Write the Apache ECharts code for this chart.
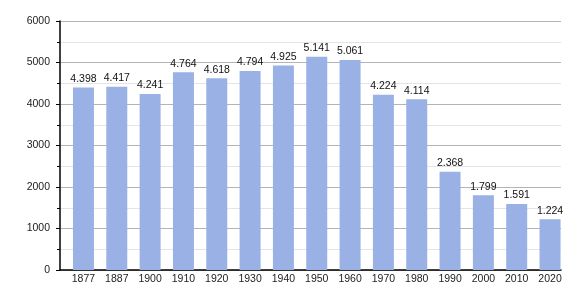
<!DOCTYPE html>
<html><head><meta charset="utf-8">
<script src="https://cdn.jsdelivr.net/npm/echarts@6/dist/echarts.min.js"></script>
<style>html,body{margin:0;padding:0;background:#fff}#c{width:580px;height:300px}</style>
</head><body><div id="c"></div>
<script>
const categories = ['1877','1887','1900','1910','1920','1930','1940','1950','1960','1970','1980','1990','2000','2010','2020'];
const population = [4398,4417,4241,4764,4618,4794,4925,5141,5061,4224,4114,2368,1799,1591,1224];
const yTicks = [0,1000,2000,3000,4000,5000,6000];

function fmt(v){ return String(v).replace(/\B(?=(\d{3})+(?!\d))/g,'.'); }
const FONT = 'Liberation Sans, Arial';
const FS = 10.5;
const chart = echarts.init(document.getElementById('c'), null, {renderer:'canvas'});
chart.setOption({
  animation:false,
  grid:[
    {left:60,right:19,top:21,bottom:30},
    {left:66.8,right:13.3,top:21,bottom:30}
  ],
  xAxis:[
    {type:'category',gridIndex:0,data:categories,
      axisLine:{lineStyle:{color:'#000',width:1.5}},
      axisTick:{show:false},axisLabel:{show:false}},
    {type:'category',gridIndex:1,data:categories,
      axisLine:{show:false},axisTick:{show:false},
      axisLabel:{color:'#222',fontSize:FS,fontFamily:FONT,margin:4}}
  ],
  yAxis:[
    {type:'value',gridIndex:0,min:yTicks[0],max:yTicks[yTicks.length-1],interval:1000,
      axisLine:{show:true,lineStyle:{color:'#000',width:1.5}},
      axisTick:{show:true,length:4,lineStyle:{color:'#000'}},
      minorTick:{show:true,splitNumber:2,length:3,lineStyle:{color:'#000'}},
      splitLine:{lineStyle:{color:'#b4b4b4',width:1}},
      minorSplitLine:{show:true,lineStyle:{color:'#e4e4e4',width:1}},
      axisLabel:{color:'#222',fontSize:FS,fontFamily:FONT,margin:10,formatter:v=>String(v)}},
    {type:'value',gridIndex:1,min:yTicks[0],max:yTicks[yTicks.length-1],interval:1000,show:false}
  ],
  series:[{type:'bar',xAxisIndex:1,yAxisIndex:1,data:population,barCategoryGap:'37%',
    itemStyle:{color:'#9ab1e6'},
    label:{show:true,position:'top',distance:3,color:'#111',fontSize:FS,fontFamily:FONT,
      formatter:p=>fmt(p.value)}}]
});
</script></body></html>
